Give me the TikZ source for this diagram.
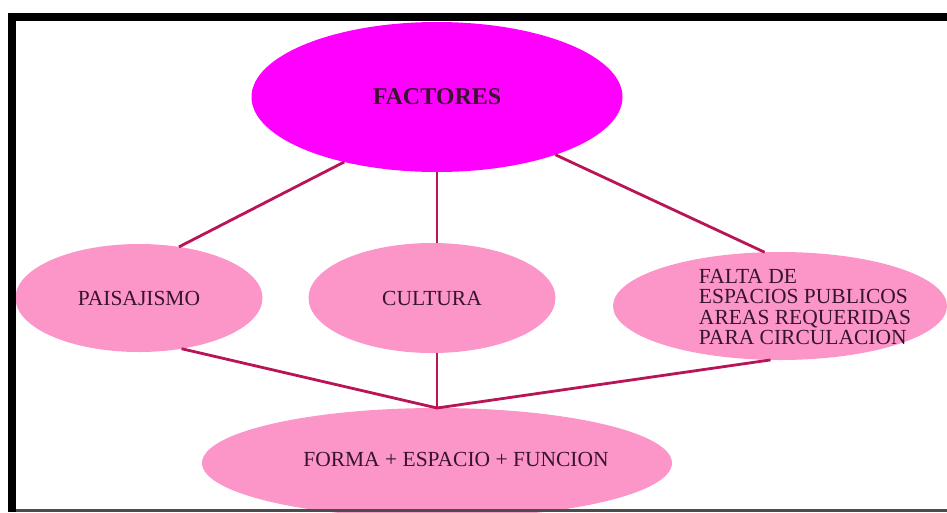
\documentclass[tikz,border=0pt]{standalone}
\usepackage{fontspec}
\setmainfont{Liberation Serif}
\usetikzlibrary{positioning,shapes,calc}

\definecolor{magfill}{RGB}{255,0,255}
\definecolor{pinkfill}{RGB}{252,150,200}
\definecolor{linkcol}{RGB}{185,20,85}
\definecolor{txtcol}{RGB}{55,20,45}

\tikzset{
  bubble/.style={ellipse, fill=pinkfill, inner sep=0pt, outer sep=0pt,
    text=txtcol, font=\fontsize{21.5}{20.5}\selectfont},
  bubtext/.style={text=txtcol, inner sep=0pt, font=\fontsize{21.5}{20.5}\selectfont},
  link/.style={draw=linkcol, line width=2.8pt},
}

\begin{document}
\begin{tikzpicture}[x=1pt,y=-1pt]
  \useasboundingbox (0,0) rectangle (947,512);
  % the ellipses
  \node[bubble, fill=magfill, minimum width=371pt, minimum height=150pt,
    font=\bfseries\fontsize{24}{24}\selectfont] (fac) at (437,97) {FACTORES};
  \node[bubble, minimum width=247pt, minimum height=108pt] (pai) at (139,298) {PAISAJISMO};
  \node[bubble, minimum width=247pt, minimum height=110pt] (cul) at (432,298) {CULTURA};
  \node[bubble, minimum width=334pt, minimum height=108pt,
    label={[bubtext, align=left, xshift=25pt, yshift=-1pt]center:FALTA DE\\ESPACIOS PUBLICOS\\AREAS REQUERIDAS\\PARA CIRCULACION}]
    (fal) at (780,306) {};
  \node[bubble, minimum width=470pt, minimum height=110pt,
    label={[bubtext, xshift=19pt, yshift=4pt]center:FORMA + ESPACIO + FUNCION}]
    (for) at (437,463) {};
  % connectors
  \draw[link] (fac.215) -- (pai.52);
  \draw[link] (fac.south) -- (fac.south |- cul.north);
  \draw[link] (fac.334) -- (fal.106);
  \draw[link] (pai.310) -- (for.north);
  \draw[link] (cul.south -| for.north) -- (for.north);
  \draw[link] (fal.260) -- (for.north);
  % frame
  \fill[black] (8,13) rectangle (947,21);
  \fill[black] (8,13) rectangle (16,512);
  \fill[black!70] (16,509) rectangle (947,512);
\end{tikzpicture}
\end{document}
